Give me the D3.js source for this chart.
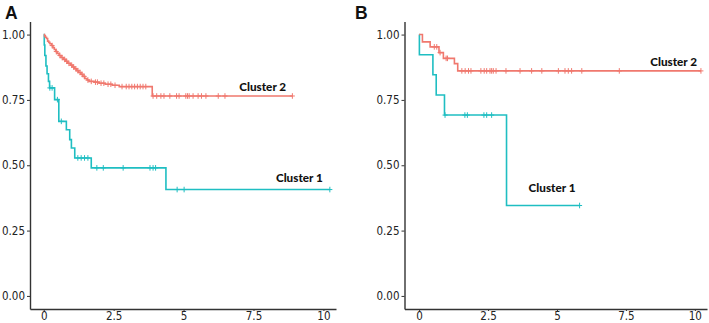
<!DOCTYPE html>
<html><head><meta charset="utf-8">
<script src="https://cdn.jsdelivr.net/npm/d3@7"></script>
<style>body{margin:0;background:#fff}svg{display:block}</style>
</head><body><svg id="c" width="709" height="323"></svg>
<script>
// ---------- data ----------
const clusters = ["Cluster 1", "Cluster 2"];
const panelLetters = ["A", "B"];
const xTicks = [0, 2.5, 5, 7.5, 10];
const xTickLabels = ["0", "2.5", "5", "7.5", "10"];
const yTicks = [0, 0.25, 0.5, 0.75, 1];
const yTickLabels = ["0.00", "0.25", "0.50", "0.75", "1.00"];

// Panel A - Cluster 1 (event times / survival after event)
const a1Times = [0.02, 0.04, 0.08, 0.12, 0.17, 0.21, 0.39, 0.54, 0.81, 0.93, 0.99, 1.11, 1.70, 4.37];
const a1Surv  = [0.96, 0.92, 0.88, 0.85, 0.821, 0.796, 0.751, 0.668, 0.636, 0.598, 0.566, 0.528, 0.49, 0.407];
const a1Censor = [0.22, 0.30, 0.49, 0.63, 1.22, 1.34, 1.46, 1.58, 1.90, 2.13, 2.84, 3.80, 3.91, 4.00, 4.77, 5.02];
const a1End = 10.23;

// Panel A - Cluster 2
const a2Times = [0.03, 0.06, 0.10, 0.14, 0.18, 0.22, 0.28, 0.33, 0.38, 0.43, 0.48, 0.55, 0.62, 0.70, 0.78, 0.86, 0.95, 1.03, 1.10, 1.18, 1.25, 1.33, 1.40, 1.47, 1.55, 1.62, 1.80, 1.98, 2.20, 2.45, 2.70, 3.88];
const a2Surv  = [0.995, 0.99, 0.985, 0.975, 0.97, 0.965, 0.958, 0.95, 0.943, 0.935, 0.928, 0.92, 0.912, 0.905, 0.898, 0.89, 0.883, 0.876, 0.869, 0.862, 0.855, 0.848, 0.84, 0.832, 0.826, 0.821, 0.818, 0.814, 0.81, 0.806, 0.801, 0.765];
const a2Censor = [0.30, 0.45, 0.58, 0.66, 0.75, 0.82, 0.90, 1.00, 1.07, 1.15, 1.22, 1.30, 1.37, 1.45, 1.58, 1.70, 1.85, 1.92, 2.05, 2.15, 2.30, 2.40, 2.55, 2.80, 2.95, 3.05, 3.15, 3.25, 3.35, 3.45, 3.55, 3.65, 3.91, 4.04, 4.19, 4.30, 4.51, 4.75, 4.84, 5.08, 5.14, 5.20, 5.34, 5.52, 5.64, 5.80, 6.24, 6.48];
const a2End = 8.89;

// Panel B - Cluster 1
const b1Times = [0.01, 0.50, 0.62, 0.92, 3.17];
const b1Surv  = [0.923, 0.846, 0.769, 0.692, 0.346];
const b1Censor = [0.94, 1.66, 1.75, 2.35, 2.45, 2.63];
const b1End = 5.82;

// Panel B - Cluster 2
const b2Times = [0.12, 0.40, 0.72, 0.88, 1.28, 1.40];
const b2Surv  = [0.972, 0.953, 0.931, 0.909, 0.889, 0.861];
const b2Censor = [0.55, 0.64, 0.76, 0.98, 1.03, 1.55, 1.67, 1.79, 1.88, 2.24, 2.36, 2.45, 2.57, 2.63, 2.69, 2.79, 3.15, 3.66, 4.08, 4.45, 5.05, 5.29, 5.41, 5.53, 5.90, 7.26];
const b2End = 10.22;

// label anchor positions (data units)
const labelA = [{t: 9.14, s: 0.435}, {t: 7.83, s: 0.783}];
const labelB = [{t: 4.82, s: 0.398}, {t: 9.23, s: 0.881}];

// ---------- drawing ----------
const colors = ["#1FBEC2", "#F0786E"];
const svg = d3.select("#c");

function stepValue(times, surv, t) {
  let s = 1;
  for (let i = 0; i < times.length; i++) if (times[i] <= t) s = surv[i];
  return s;
}

function drawPanel(p) {
  const x = d3.scaleLinear().domain(p.xDomain).range(p.xRange);
  const y = d3.scaleLinear().domain([-0.05, 1.05]).range([309, 21.5]);
  const g = svg.append("g");

  const yAxis = d3.axisLeft(y).tickValues(yTicks)
    .tickFormat((d, i) => yTickLabels[i]).tickSize(3).tickSizeOuter(0).tickPadding(2);
  const ya = g.append("g").attr("transform", `translate(${p.xRange[0]},0)`).call(yAxis);
  const xAxis = d3.axisBottom(x).tickValues(xTicks)
    .tickFormat((d, i) => xTickLabels[i]).tickSize(2).tickSizeOuter(0).tickPadding(1);
  const xa = g.append("g").attr("transform", `translate(0,${y.range()[0]})`).call(xAxis);
  [ya, xa].forEach(a => {
    a.select(".domain").attr("stroke", "#333").attr("stroke-width", 1.4);
    a.selectAll(".tick line").attr("stroke", "#333");
    a.selectAll("text").attr("fill", "#222")
      .style("font-family", "'DejaVu Sans Condensed','DejaVu Sans',sans-serif")
      .style("font-stretch", "condensed").style("font-size", "11.5px");
  });

  p.series.forEach((s, k) => {
    const pts = [[0, 1]];
    s.times.forEach((t, i) => pts.push([t, s.surv[i]]));
    pts.push([s.end, s.surv[s.surv.length - 1]]);
    const line = d3.line().x(d => x(d[0])).y(d => y(d[1])).curve(d3.curveStepAfter);
    g.append("path").attr("d", line(pts)).attr("fill", "none")
      .attr("stroke", colors[k]).attr("stroke-width", 1.6);
    const cens = s.censor.concat([s.end]);
    g.selectAll(null).data(cens).enter().append("path")
      .attr("d", t => {
        const cx = x(t), cy = y(stepValue(s.times, s.surv, t));
        return `M${cx},${cy - 2.8}V${cy + 2.8}M${cx - 2.5},${cy}H${cx + 2.5}`;
      })
      .attr("stroke", colors[k]).attr("stroke-width", 1).attr("fill", "none");
    g.append("text").attr("x", x(p.labels[k].t)).attr("y", y(p.labels[k].s))
      .attr("text-anchor", "middle")
      .style("font-family", "Lato, 'Open Sans', sans-serif").style("font-weight", "900")
      .style("font-size", "11.7px").attr("fill", "#111").text(clusters[k]);
  });

  g.append("text").attr("x", p.letterX).attr("y", 18.5)
    .style("font-family", "'Liberation Sans', Arial, sans-serif").style("font-weight", "bold")
    .style("font-size", "17.5px").attr("fill", "#111").text(p.letter);
}

drawPanel({
  letter: panelLetters[0], letterX: 5,
  xDomain: [-0.49, 10.45], xRange: [30, 336],
  series: [
    {times: a1Times, surv: a1Surv, censor: a1Censor, end: a1End},
    {times: a2Times, surv: a2Surv, censor: a2Censor, end: a2End}
  ],
  labels: labelA
});
drawPanel({
  letter: panelLetters[1], letterX: 355,
  xDomain: [-0.53, 10.44], xRange: [404.5, 707],
  series: [
    {times: b1Times, surv: b1Surv, censor: b1Censor, end: b1End},
    {times: b2Times, surv: b2Surv, censor: b2Censor, end: b2End}
  ],
  labels: labelB
});
</script></body></html>
